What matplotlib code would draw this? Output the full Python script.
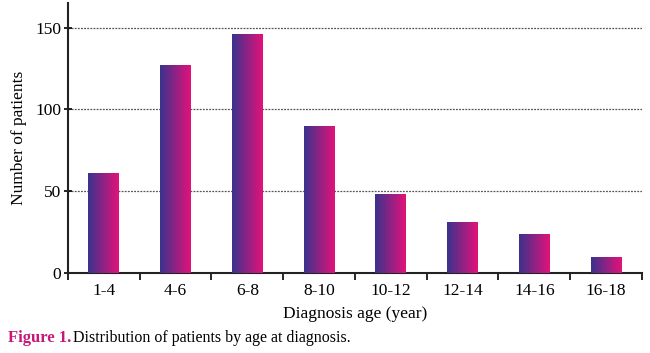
import numpy as np
import matplotlib.pyplot as plt
from matplotlib.colors import LinearSegmentedColormap

age_groups = ["1-4", "4-6", "6-8", "8-10", "10-12", "12-14", "14-16", "16-18"]
patients = [61, 127, 146, 90, 48, 31, 24, 10]

plt.rcParams["font.family"] = ["Liberation Serif", "DejaVu Serif"]

fig = plt.figure(figsize=(6.5, 3.53), dpi=100)
ax = fig.add_axes([0.1046, 0.2266, 0.883, 0.765])

x = np.arange(len(age_groups))
bars = ax.bar(x, patients, width=0.43, color="none", edgecolor="none", zorder=3)

cmap = LinearSegmentedColormap.from_list("bar", ["#3b338e", "#e2127a"])
grad = np.linspace(0, 1, 64).reshape(1, -1)
for b in bars:
    x0, y0 = b.get_x(), b.get_y()
    im = ax.imshow(grad, cmap=cmap, aspect="auto", zorder=3,
                   extent=[x0, x0 + b.get_width(), y0, y0 + b.get_height()])
    im.set_clip_path(b)

ax.set_xlim(-0.5, len(age_groups) - 0.5)
ax.set_ylim(0, 165)
ax.set_yticks([0, 50, 100, 150])
ax.set_xticks(x)
ax.set_xticklabels(age_groups, fontsize=12.5)
ax.set_xticks(np.arange(-0.5, len(age_groups), 1), minor=True)
ax.tick_params(axis="x", which="major", length=0, pad=7)
ax.tick_params(axis="x", which="minor", length=5, width=1.2, direction="out")
ax.tick_params(axis="y", length=6, width=1.2, direction="inout", labelsize=12.5, pad=2)

for v in [50, 100, 150]:
    ax.axhline(v, color="#555555", lw=0.9, ls=(0, (1.5, 1)), zorder=1)

for s in ["top", "right"]:
    ax.spines[s].set_visible(False)
ax.spines["left"].set_linewidth(1.5)
ax.spines["bottom"].set_linewidth(1.5)
ax.spines["left"].set_color("#222222")
ax.spines["bottom"].set_color("#222222")

ax.set_ylabel("Number of patients", fontsize=12.5, labelpad=6)
ax.set_xlabel("Diagnosis age (year)", fontsize=12.5, labelpad=5)

fig.text(0.012, 0.03, "Figure 1.", color="#c8177a", fontweight="bold",
         fontsize=12)
fig.text(0.113, 0.03, "Distribution of patients by age at diagnosis.",
         fontsize=11.5)

fig.savefig("out.png", dpi=100)
